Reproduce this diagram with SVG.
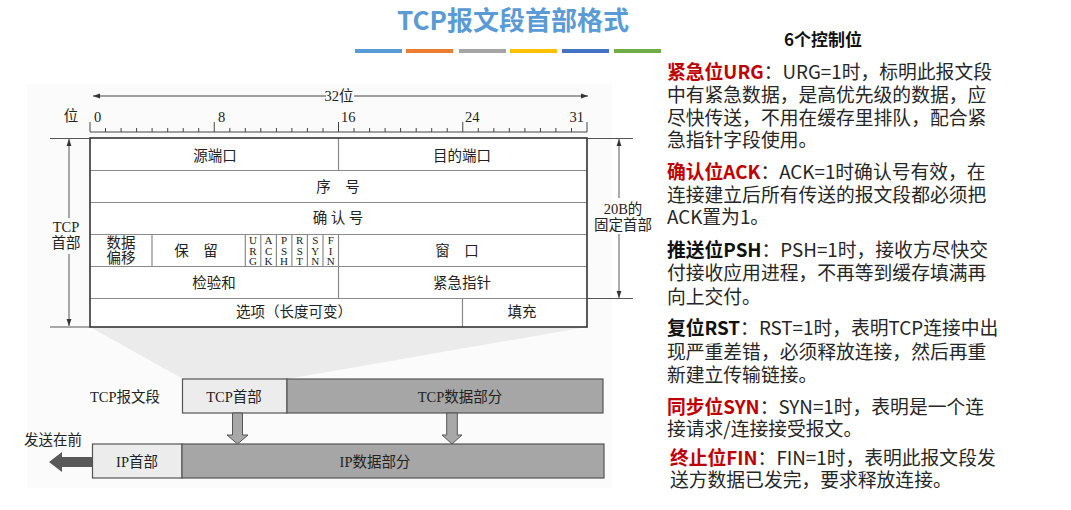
<svg xmlns="http://www.w3.org/2000/svg" width="1071" height="510" viewBox="0 0 1071 510">
<defs>
<style>
.serif{font-family:"Liberation Serif","Noto Sans CJK SC",serif;fill:#222;}
.t14{font-size:14.5px;}
.ctr{text-anchor:middle;}
.frame{fill:none;stroke:#333;stroke-width:1.6;}
.inner{stroke:#8a8a8a;stroke-width:1.2;fill:none;}
.thin{stroke:#444;stroke-width:1;fill:none;}
.dim{stroke:#555;stroke-width:1;fill:none;}
.panel{font-family:"Noto Sans CJK SC","Noto Sans",sans-serif;font-size:18.8px;fill:#262626;}
.red{fill:#c00000;font-weight:bold;}
.blk{fill:#111;font-weight:bold;}
.flag{font-size:11px;}
</style>
<marker id="ah" viewBox="0 0 10 10" refX="10" refY="5" markerWidth="7" markerHeight="7" orient="auto-start-reverse" markerUnits="userSpaceOnUse">
<path d="M0,1.5 L10,5 L0,8.5 z" fill="#333"/>
</marker>
</defs>
<rect width="1071" height="510" fill="#ffffff"/>

<g id="title">
<text x="513" y="30" text-anchor="middle" style="font-family:'Noto Sans CJK SC',sans-serif;font-size:26px;font-weight:bold;fill:#5b9bd5">TCP报文段首部格式</text>
<rect x="355" y="49" width="47" height="4" fill="#5b9bd5"/>
<rect x="406" y="49" width="47" height="4" fill="#ed7d31"/>
<rect x="459" y="49" width="47" height="4" fill="#a5a5a5"/>
<rect x="510" y="49" width="47" height="4" fill="#ffc000"/>
<rect x="562" y="49" width="47" height="4" fill="#4472c4"/>
<rect x="614" y="49" width="47" height="4" fill="#70ad47"/>
</g>

<rect x="27" y="84" width="585" height="404" fill="#fbfbfb"/>

<g id="ruler">
<line x1="326" y1="96" x2="93" y2="96" class="thin" marker-end="url(#ah)"/>
<line x1="354" y1="96" x2="588" y2="96" class="thin" marker-end="url(#ah)"/>
<text x="339" y="101" class="serif t14 ctr">32位</text>
<text x="71" y="121" class="serif t14 ctr">位</text>
<text x="94" y="122" class="serif t14">0</text>
<text x="218" y="122" class="serif t14">8</text>
<text x="341" y="122" class="serif t14">16</text>
<text x="465" y="122" class="serif t14">24</text>
<text x="584" y="122" class="serif t14" text-anchor="end">31</text>
<line x1="90" y1="132" x2="587" y2="132" class="thin"/>
<path class="thin" d="M90,122V132 M214.25,122V132 M338.5,122V132 M462.75,122V132 M587,122V132
M105.5,128V132 M121.1,128V132 M136.6,128V132 M152.1,128V132 M167.7,128V132 M183.2,128V132 M198.7,128V132
M229.8,128V132 M245.3,128V132 M260.8,128V132 M276.4,128V132 M291.9,128V132 M307.4,128V132 M323,128V132
M354,128V132 M369.6,128V132 M385.1,128V132 M400.6,128V132 M416.2,128V132 M431.7,128V132 M447.2,128V132
M478.3,128V132 M493.8,128V132 M509.3,128V132 M524.9,128V132 M540.4,128V132 M555.9,128V132 M571.5,128V132"/>
</g>

<g id="shade">
<polygon points="90,327 587,327 287,379 183,379" fill="#ebebeb"/>
</g>

<g id="header-table">
<rect x="90" y="138" width="497" height="189" fill="#ffffff"/>
<path class="inner" d="M90,170.5H587 M90,202.5H587 M90,234.5H587 M90,266.5H587 M90,298.5H587
M338.5,138V170.5 M338.5,234.5V298.5 M462.5,298.5V327
M152,234.5V266.5 M245.3,234.5V266.5 M260.8,234.5V266.5 M276.4,234.5V266.5 M291.9,234.5V266.5 M307.4,234.5V266.5 M323,234.5V266.5"/>
<rect x="90" y="138" width="497" height="189" class="frame"/>
<text x="215" y="161" class="serif t14 ctr">源端口</text>
<text x="462" y="161" class="serif t14 ctr">目的端口</text>
<text x="338" y="192" class="serif t14 ctr">序　号</text>
<text x="338" y="223" class="serif t14 ctr">确 认 号</text>
<text x="121" y="248" class="serif t14 ctr">数据<tspan x="121" y="263">偏移</tspan></text>
<text x="196" y="256" class="serif t14 ctr">保　留</text>
<g class="serif flag ctr">
<text x="253" y="244">U<tspan x="253" y="254.5">R</tspan><tspan x="253" y="265">G</tspan></text>
<text x="268.6" y="244">A<tspan x="268.6" y="254.5">C</tspan><tspan x="268.6" y="265">K</tspan></text>
<text x="284.1" y="244">P<tspan x="284.1" y="254.5">S</tspan><tspan x="284.1" y="265">H</tspan></text>
<text x="299.7" y="244">R<tspan x="299.7" y="254.5">S</tspan><tspan x="299.7" y="265">T</tspan></text>
<text x="315.2" y="244">S<tspan x="315.2" y="254.5">Y</tspan><tspan x="315.2" y="265">N</tspan></text>
<text x="330.7" y="244">F<tspan x="330.7" y="254.5">I</tspan><tspan x="330.7" y="265">N</tspan></text>
</g>
<text x="457" y="256" class="serif t14 ctr">窗　口</text>
<text x="214" y="288" class="serif t14 ctr">检验和</text>
<text x="462" y="288" class="serif t14 ctr">紧急指针</text>
<text x="294" y="317" class="serif t14 ctr">选项（长度可变）</text>
<text x="522" y="317" class="serif t14 ctr">填充</text>
</g>

<g id="tcp-header-dim">
<path class="dim" d="M50,138.5H90 M50,327H90"/>
<line x1="69" y1="218" x2="69" y2="139" class="dim" marker-end="url(#ah)"/>
<line x1="69" y1="254" x2="69" y2="326" class="dim" marker-end="url(#ah)"/>
<text x="66" y="232" class="serif t14 ctr">TCP<tspan x="66" y="248">首部</tspan></text>
</g>

<g id="fixed-header-dim">
<path class="dim" d="M587,138.5H633 M587,298.5H633"/>
<line x1="619" y1="198" x2="619" y2="139" class="dim" marker-end="url(#ah)"/>
<line x1="619" y1="234" x2="619" y2="298" class="dim" marker-end="url(#ah)"/>
<text x="623" y="214" class="serif t14 ctr">20B的<tspan x="623" y="230">固定首部</tspan></text>
</g>

<g id="tcp-segment">
<text x="125" y="402" class="serif t14 ctr">TCP报文段</text>
<rect x="182.5" y="379" width="104.5" height="34" fill="#ececec" stroke="#555" stroke-width="1.2"/>
<rect x="287" y="379" width="316" height="34" fill="#a6a6a6" stroke="#555" stroke-width="1.2"/>
<text x="234" y="402" class="serif t14 ctr">TCP首部</text>
<text x="460" y="402" class="serif t14 ctr">TCP数据部分</text>
</g>

<g id="connectors">
<polygon points="232.5,413 242.5,413 242.5,435 248,435 237.5,444 227,435 232.5,435" fill="#a8a8a8" stroke="#555" stroke-width="1"/>
<polygon points="446.7,413 457.3,413 457.3,435 462,435 452,444 442,435 446.7,435" fill="#a8a8a8" stroke="#555" stroke-width="1"/>
<polygon points="92,457 62,457 62,452 49,462 62,472 62,467 92,467" fill="#595959"/>
</g>

<g id="ip-datagram">
<text x="53" y="445" class="serif t14 ctr">发送在前</text>
<rect x="92.5" y="444" width="89.5" height="34" fill="#ececec" stroke="#555" stroke-width="1.2"/>
<rect x="182" y="444" width="422" height="34" fill="#a6a6a6" stroke="#555" stroke-width="1.2"/>
<text x="137" y="467" class="serif t14 ctr">IP首部</text>
<text x="375" y="467" class="serif t14 ctr">IP数据部分</text>
</g>

<g id="control-bits" class="panel">
<text x="823" y="46" text-anchor="middle" style="font-weight:bold;font-size:17px;fill:#111">6个控制位</text>
<text x="667" y="79"><tspan class="red">紧急位URG</tspan>：URG=1时，标明此报文段<tspan x="667" y="102">中有紧急数据，是高优先级的数据，应</tspan><tspan x="667" y="125">尽快传送，不用在缓存里排队，配合紧</tspan><tspan x="667" y="147">急指针字段使用。</tspan></text>
<text x="667" y="179"><tspan class="red">确认位ACK</tspan>：ACK=1时确认号有效，在<tspan x="667" y="202">连接建立后所有传送的报文段都必须把</tspan><tspan x="667" y="224">ACK置为1。</tspan></text>
<text x="667" y="257"><tspan class="blk">推送位PSH</tspan>：PSH=1时，接收方尽快交<tspan x="667" y="280">付接收应用进程，不再等到缓存填满再</tspan><tspan x="667" y="304">向上交付。</tspan></text>
<text x="667" y="335"><tspan class="blk">复位RST</tspan>：RST=1时，表明TCP连接中出<tspan x="667" y="359">现严重差错，必须释放连接，然后再重</tspan><tspan x="667" y="382">新建立传输链接。</tspan></text>
<text x="667" y="414"><tspan class="red">同步位SYN</tspan>：SYN=1时，表明是一个连<tspan x="667" y="436">接请求/连接接受报文。</tspan></text>
<text x="670" y="465"><tspan class="red">终止位FIN</tspan>：FIN=1时，表明此报文段发<tspan x="670" y="487">送方数据已发完，要求释放连接。</tspan></text>
</g>
</svg>
